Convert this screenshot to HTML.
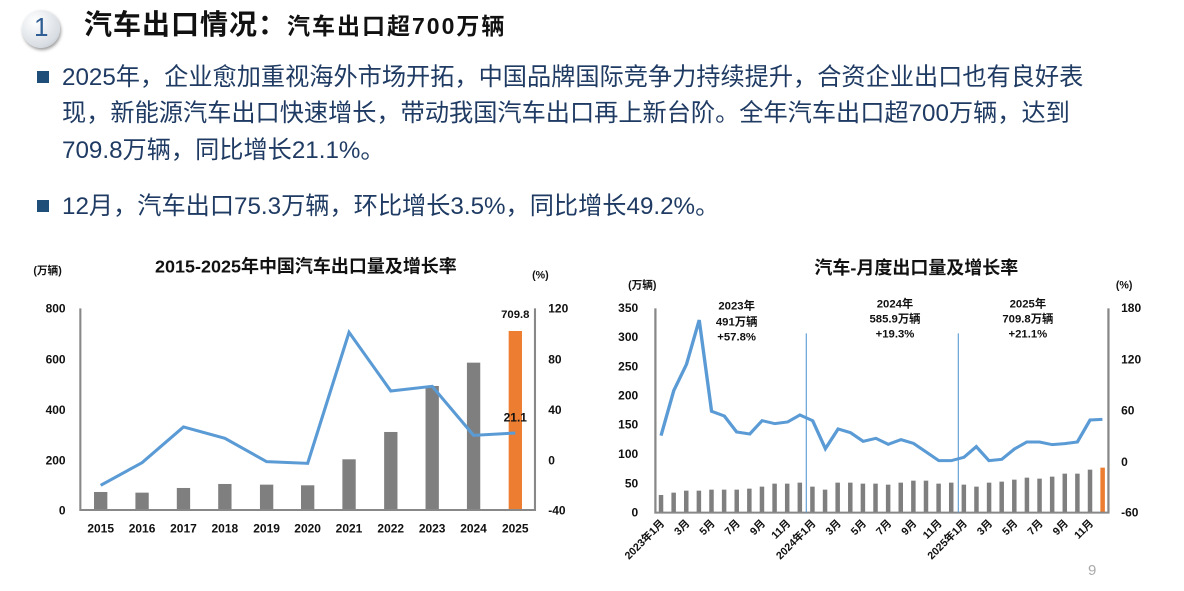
<!DOCTYPE html>
<html><head><meta charset="utf-8"><style>
body{margin:0;width:1184px;height:591px;background:#fff;overflow:hidden;position:relative;font-family:"Liberation Sans","Noto Sans CJK SC",sans-serif}
.t{position:absolute;white-space:nowrap;color:#1f3b63;font-size:24.2px;line-height:30px}
.sq{position:absolute;width:12px;height:12px;background:#1f4e79}
svg{position:absolute;left:0;top:0}
</style></head><body>
<div style="position:absolute;left:22px;top:10px;width:38px;height:38px;border-radius:50%;background:radial-gradient(circle at 35% 30%,#fff,#d8dde3 70%,#aab2bc);box-shadow:1px 2px 3px #999"></div>
<div style="position:absolute;left:34px;top:12px;font-size:26px;color:#2e5e93">1</div>
<div style="position:absolute;left:84px;top:7px;font-size:28px;font-weight:bold;color:#111;white-space:nowrap;line-height:36px;letter-spacing:1px">汽车出口情况：<span style="font-size:23px;letter-spacing:2px">汽车出口超700万辆</span></div>
<div class="sq" style="left:37px;top:71px"></div>
<div class="sq" style="left:37px;top:200px"></div>
<div class="t" style="left:62px;top:63px">2025年，企业愈加重视海外市场开拓，中国品牌国际竞争力持续提升，合资企业出口也有良好表</div>
<div class="t" style="left:62px;top:99px">现，新能源汽车出口快速增长，带动我国汽车出口再上新台阶。全年汽车出口超700万辆，达到</div>
<div class="t" style="left:62px;top:136px">709.8万辆，同比增长21.1%。</div>
<div class="t" style="left:62px;top:192px">12月，汽车出口75.3万辆，环比增长3.5%，同比增长49.2%。</div>
<div style="position:absolute;left:1088px;top:562px;font-size:15px;color:#aaa">9</div>
<svg width="1184" height="591" font-family="Liberation Sans,Noto Sans CJK SC,sans-serif">
<g transform="translate(20,250) scale(0.3508,0.3333)">
<g fill="#7f7f7f"><rect x="211" y="726" width="38" height="54"/><rect x="329" y="728" width="38" height="52"/><rect x="447" y="714" width="38" height="66"/><rect x="565" y="702" width="38" height="78"/><rect x="684" y="704" width="38" height="76"/><rect x="801" y="706" width="38" height="74"/><rect x="919" y="628" width="38" height="152"/><rect x="1038" y="546" width="38" height="234"/><rect x="1156" y="408" width="38" height="372"/><rect x="1274" y="338" width="38" height="442"/></g>
<rect x="1393" y="243" width="38" height="537" fill="#ed7d31"/>
<path d="M172 175V780H1468V175" fill="none" stroke="#888" stroke-width="6"/>
<polyline points="230,706 348,638 466,531 584,565 703,635 820,640 938,247 1057,423 1175,409 1293,556 1412,549" fill="none" stroke="#5b9bd5" stroke-width="9"/>
</g>
<g transform="translate(20,250) scale(0.3333)" font-weight="bold" fill="#111" class="tx" data-f="1.0524">
<text x="815" y="68" font-size="54" text-anchor="middle">2015-2025年中国汽车出口量及增长率</text>
<text x="38" y="72" font-size="32">(万辆)</text>
<text x="1460" y="86" font-size="32">(%)</text>
<g font-size="36" text-anchor="end"><text x="130" y="188">800</text><text x="130" y="340">600</text><text x="130" y="492">400</text><text x="130" y="643">200</text><text x="130" y="793">0</text></g>
<g font-size="36"><text x="1506" y="188">120</text><text x="1506" y="340">80</text><text x="1506" y="492">40</text><text x="1506" y="643">0</text><text x="1506" y="793">-40</text></g>
<text x="1412" y="204" font-size="34" text-anchor="middle">709.8</text>
<text x="1412" y="515" font-size="36" text-anchor="middle">21.1</text>
<g font-size="36" text-anchor="middle"><text x="230" y="848">2015</text><text x="348" y="848">2016</text><text x="466" y="848">2017</text><text x="584" y="848">2018</text><text x="703" y="848">2019</text><text x="820" y="848">2020</text><text x="938" y="848">2021</text><text x="1057" y="848">2022</text><text x="1175" y="848">2023</text><text x="1293" y="848">2024</text><text x="1412" y="848">2025</text></g>
</g>
<g transform="translate(600,270) scale(0.3744,0.3333)">
<g fill="#7f7f7f" id="bars"></g>
<path d="M148 115V728H1358V115" fill="none" stroke="#888" stroke-width="6"/>
<line x1="551" y1="190" x2="551" y2="728" stroke="#5b9bd5" stroke-width="3"/>
<line x1="957" y1="190" x2="957" y2="728" stroke="#5b9bd5" stroke-width="3"/>
<polyline points="163,497 197,362 231,283 265,150 298,424 332,438 365,486 400,492 433,452 467,461 501,456 534,435 568,452 602,536 636,477 669,488 703,514 737,505 770,523 804,509 837,520 871,546 905,572 938,572 972,562 1005,530 1039,572 1073,568 1107,537 1140,516 1174,516 1208,524 1241,521 1275,516 1309,450 1342,448" fill="none" stroke="#5b9bd5" stroke-width="9"/>
</g>
<g transform="translate(600,270) scale(0.3333)" font-weight="bold" fill="#111" class="tx" data-f="1.1232">
<text x="845" y="12" font-size="54" text-anchor="middle">汽车-月度出口量及增长率</text>
<text x="75" y="56" font-size="32">(万辆)</text>
<text x="1378" y="56" font-size="32">(%)</text>
<g font-size="36" text-anchor="end"><text x="102" y="126">350</text><text x="102" y="213">300</text><text x="102" y="301">250</text><text x="102" y="388">200</text><text x="102" y="476">150</text><text x="102" y="564">100</text><text x="102" y="652">50</text><text x="102" y="740">0</text></g>
<g font-size="36"><text x="1392" y="126">180</text><text x="1392" y="280">120</text><text x="1392" y="434">60</text><text x="1392" y="588">0</text><text x="1392" y="740">-60</text></g>
<g font-size="34" text-anchor="middle"><text x="365" y="118">2023年</text><text x="365" y="166">491万辆</text><text x="365" y="212">+57.8%</text>
<text x="788" y="112">2024年</text><text x="788" y="158">585.9万辆</text><text x="788" y="202">+19.3%</text>
<text x="1143" y="112">2025年</text><text x="1143" y="158">709.8万辆</text><text x="1143" y="202">+21.1%</text></g>
</g>
<g transform="translate(600,270) scale(0.3333)" font-weight="bold" fill="#111" font-size="32" text-anchor="end" id="months"></g>
</svg>
<script>
document.querySelectorAll('.tx').forEach(function(g){var f=+g.getAttribute('data-f');g.querySelectorAll('text').forEach(function(t){t.setAttribute('x',(+t.getAttribute('x'))*f);});});
var tops=[675,668,662,662,659,659,659,656,650,641,641,638,650,659,638,638,641,641,644,638,632,632,641,638,644,650,638,635,629,623,626,620,611,611,599,593];
var ns="http://www.w3.org/2000/svg",b=document.getElementById('bars'),m=document.getElementById('months');
var lab=["2023年1月","3月","5月","7月","9月","11月","2024年1月","3月","5月","7月","9月","11月","2025年1月","3月","5月","7月","9月","11月"];
for(var i=0;i<36;i++){var x=163+i*33.7;var r=document.createElementNS(ns,'rect');r.setAttribute('x',x-6);r.setAttribute('y',tops[i]);r.setAttribute('width',12);r.setAttribute('height',728-tops[i]);if(i==35)r.setAttribute('fill','#ed7d31');b.appendChild(r);
if(i%2==0){var t=document.createElementNS(ns,'text');t.textContent=lab[i/2];t.setAttribute('transform','translate('+(x*1.1232+12)+',762) rotate(-45)');m.appendChild(t);}}
</script>
</body></html>
